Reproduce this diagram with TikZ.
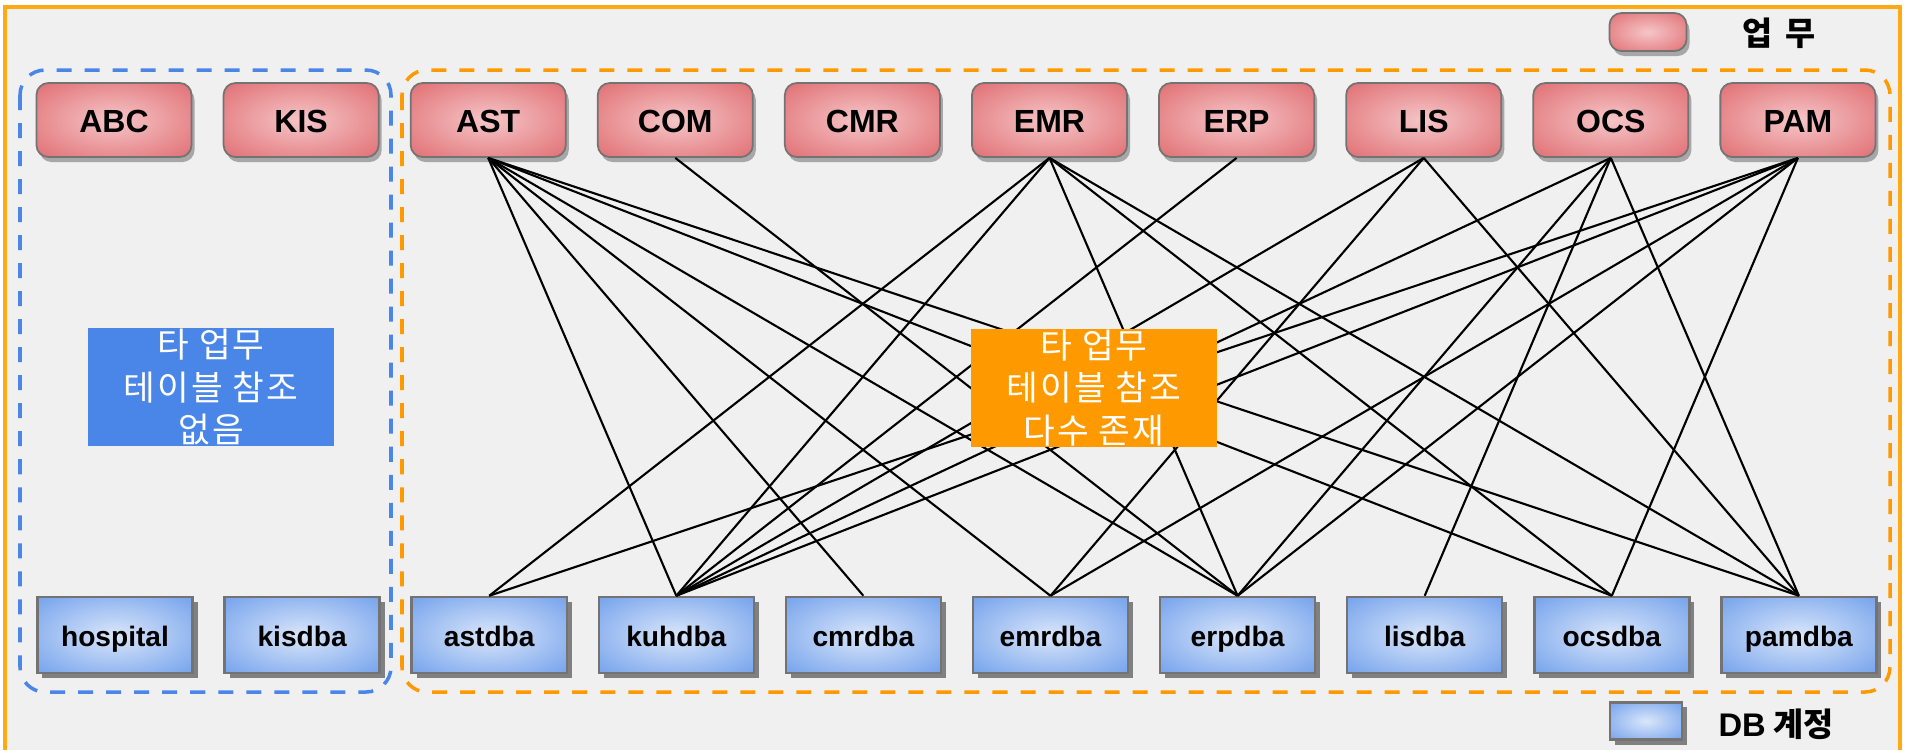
\documentclass[tikz,border=0pt]{standalone}
\usepackage{fontspec}
\setmainfont{Liberation Sans}
\newfontfamily\krfont{Noto Sans CJK KR}
\usetikzlibrary{shadows}

\definecolor{pagegray}{RGB}{240,240,240}
\definecolor{frameorange}{RGB}{255,170,20}
\definecolor{grouporange}{RGB}{255,153,0}
\definecolor{groupblue}{RGB}{74,134,232}
\definecolor{taskout}{RGB}{222,100,104}
\definecolor{taskin}{RGB}{245,198,200}
\definecolor{acctout}{RGB}{104,154,234}
\definecolor{acctin}{RGB}{218,230,250}

\pgfdeclareradialshading{taskshade}{\pgfpoint{0bp}{0bp}}{%
    color(0bp)=(taskin); color(40bp)=(taskout); color(50bp)=(taskout)}
\pgfdeclareradialshading{acctshade}{\pgfpoint{0bp}{0bp}}{%
    color(0bp)=(acctin); color(40bp)=(acctout); color(50bp)=(acctout)}

\begin{document}
\begin{tikzpicture}[
    x=0.01cm,
    y=-0.01cm,
    task/.style={
        draw=black!55,
        line width=0.5pt,
        shading=taskshade,
        rounded corners=0.12cm,
        minimum width=1.55cm,
        minimum height=0.74cm,
        inner sep=0pt,
        text height=1.6ex,
        text depth=0.3ex,
        font=\fontsize{9.1}{11}\selectfont\bfseries,
        drop shadow={shadow xshift=0.03cm, shadow yshift=-0.05cm,
            opacity=0.3, fill=black}
    },
    acct/.style={
        draw=black!55,
        line width=0.7pt,
        shading=acctshade,
        minimum width=1.55cm,
        minimum height=0.76cm,
        inner sep=0pt,
        text height=1.6ex,
        text depth=0.4ex,
        font=\fontsize{8}{10}\selectfont\bfseries,
        drop shadow={shadow xshift=0.05cm, shadow yshift=-0.05cm,
            opacity=1, fill=black!50}
    },
    group/.style={
        line width=1pt,
        dash pattern=on 0.15cm off 0.13cm,
        rounded corners=0.25cm
    },
    note/.style={
        minimum width=2.46cm,
        minimum height=1.18cm,
        inner sep=0pt,
        align=center,
        text=white,
        font=\krfont\fontsize{9.8}{12.2}\selectfont\addfontfeature{LetterSpace=6}
    },
    legend/.style={
        font=\krfont\fontsize{9.3}{11}\selectfont\bfseries
    },
    link/.style={
        draw=black,
        line width=0.6pt
    }
]

% Page and outer frame
\fill[white] (0,0) rectangle (1912,750);
\useasboundingbox (0,0) rectangle (1912,750);
\fill[pagegray] (5,7) rectangle (1900,750);
\draw[frameorange, line width=0.9pt] (5,750) -- (5,7) -- (1900,7) -- (1900,750);

% Groups
\draw[group, groupblue] (20,70) rectangle (391,692);
\draw[group, grouporange] (402,70) rectangle (1890,692);

% Tasks (top row) and DB accounts (bottom row)
\foreach \name [count=\i from 0] in {ABC,KIS,AST,COM,CMR,EMR,ERP,LIS,OCS,PAM}{
    \node[task] (\name) at ({114+187.1*\i},120) {\name};
}
\foreach \name [count=\i from 0] in {hospital,kisdba,astdba,kuhdba,cmrdba,
    emrdba,erpdba,lisdba,ocsdba,pamdba}{
    \node[acct] (\name) at ({115+187.1*\i},635) {\name};
}

% References between tasks and accounts
\foreach \from/\to in {AST/kuhdba, AST/cmrdba, AST/emrdba, AST/erpdba,
    AST/ocsdba, AST/pamdba, COM/erpdba,
    EMR/astdba, EMR/kuhdba, EMR/erpdba, EMR/ocsdba, EMR/pamdba,
    ERP/kuhdba, LIS/kuhdba, LIS/emrdba, LIS/pamdba,
    OCS/kuhdba, OCS/erpdba, OCS/lisdba, OCS/pamdba,
    PAM/astdba, PAM/kuhdba, PAM/emrdba, PAM/erpdba, PAM/ocsdba}{
    \draw[link] (\from.south) -- (\to.north);
}

% Notes
\node[note, fill=groupblue] (noref) at (211,387)
    {타 업무\\테이블 참조\\없음};
\node[note, fill=grouporange] (manyref) at (1094,388)
    {타 업무\\테이블 참조\\다수 존재};

% Legend
\node[task, minimum width=0.77cm, minimum height=0.38cm] (taskkey) at (1648,32) {};
\node[legend] (tasklabel) at (1779,33) {업\hspace{0.4em}무};
\node[acct, minimum width=0.72cm, minimum height=0.32cm] (acctkey) at (1646,721) {};
\node[legend] (acctlabel) at (1776,724) {{\normalfont\bfseries DB} 계정};
\end{tikzpicture}
\end{document}
